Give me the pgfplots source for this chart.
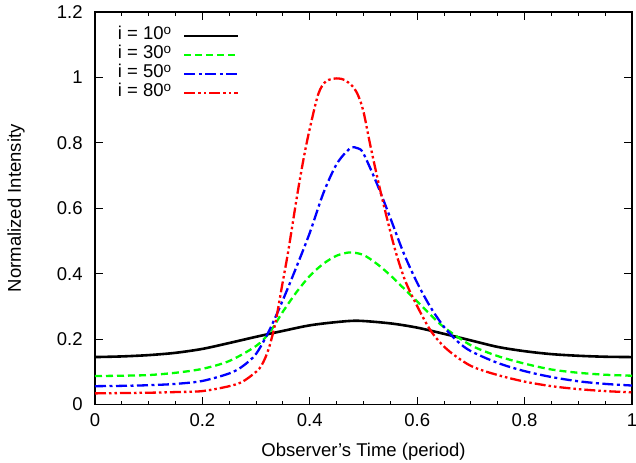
\documentclass[border=0pt]{standalone}
\usepackage{fontspec}
\setmainfont{Liberation Sans}
\usepackage{pgfplots}
\pgfplotsset{compat=1.18}
\definecolor{gpgreen}{RGB}{0,255,0}
\definecolor{gpblue}{RGB}{0,0,255}
\definecolor{gpred}{RGB}{255,0,0}
\newcommand{\dego}{\raisebox{5bp}{\fontsize{13.5bp}{14bp}\selectfont o}}
\begin{document}
\fontsize{18.5bp}{22bp}\selectfont
\begin{tikzpicture}
\useasboundingbox (-95bp,-58.5bp) rectangle (541bp,404.5bp);
\begin{axis}[
  scale only axis, width=537bp, height=392.5bp,
  xmin=0, xmax=1, ymin=0, ymax=1.2,
  xtick={0,0.2,0.4,0.6,0.8,1}, ytick={0,0.2,0.4,0.6,0.8,1,1.2},
  minor x tick num=3,
  tick align=inside,
  major tick length=8bp, minor tick length=4bp,
  axis line style={line width=1.4bp},
  every tick/.style={black, line width=1bp},
  /pgf/number format/assume math mode=true,
  xticklabel style={yshift=-3bp},
  yticklabel style={xshift=-6bp},
  xlabel={Observer's Time (period)},
  ylabel={Normalized Intensity},
  xlabel style={at={(axis description cs:0.5,-0.121)}, anchor=center},
  ylabel style={at={(axis description cs:-0.147,0.5)}, anchor=center},
  legend cell align=right, legend plot pos=right,
  legend style={at={(0.27,0.964)}, anchor=north east, draw=none, fill=none,
    inner sep=0pt, row sep=0pt, /tikz/column sep=12bp,
    nodes={inner sep=0pt, text height=13.5bp, text depth=5.5bp}},
  legend image code/.code={\draw[#1] (0bp,0bp) -- (54bp,0bp);},
]
\addplot[black, line width=2.6bp, smooth, tension=0.5] coordinates {
(0,0.145) (0.05,0.147) (0.1,0.151) (0.15,0.158) (0.2,0.170) (0.25,0.188)
(0.3,0.207) (0.35,0.225) (0.4,0.242) (0.45,0.252) (0.49,0.256) (0.55,0.248)
(0.6,0.235) (0.65,0.216) (0.7,0.196) (0.75,0.176) (0.8,0.163) (0.85,0.154)
(0.9,0.149) (0.95,0.146) (1,0.145)};
\addlegendentry{i = 10\dego}
\addplot[gpgreen, line width=2.3bp, dash pattern=on 7bp off 4bp, smooth, tension=0.5] coordinates {
(0,0.087) (0.05,0.088) (0.1,0.090) (0.15,0.097) (0.2,0.109) (0.25,0.133)
(0.3,0.179) (0.325,0.220) (0.35,0.284) (0.375,0.343) (0.4,0.393) (0.425,0.430)
(0.45,0.455) (0.475,0.465) (0.5,0.457) (0.525,0.430) (0.55,0.395) (0.575,0.355)
(0.6,0.315) (0.625,0.274) (0.65,0.236) (0.7,0.181) (0.75,0.148) (0.8,0.125)
(0.85,0.107) (0.9,0.097) (0.95,0.091) (1,0.088)};
\addlegendentry{i = 30\dego}
\addplot[gpblue, line width=2.3bp, dash pattern=on 11bp off 3.5bp on 3bp off 3.5bp, smooth, tension=0.5] coordinates {
(0,0.056) (0.05,0.057) (0.1,0.059) (0.15,0.063) (0.2,0.072) (0.25,0.095)
(0.275,0.117) (0.3,0.155) (0.325,0.228) (0.35,0.320) (0.375,0.420) (0.4,0.525)
(0.425,0.645) (0.45,0.735) (0.475,0.783) (0.49,0.783) (0.5,0.767) (0.525,0.675)
(0.55,0.570) (0.575,0.462) (0.6,0.372) (0.625,0.297) (0.65,0.237) (0.675,0.193)
(0.7,0.163) (0.75,0.127) (0.8,0.102) (0.85,0.084) (0.9,0.071) (0.95,0.063) (1,0.058)};
\addlegendentry{i = 50\dego}
\addplot[gpred, line width=2.3bp, dash pattern=on 11bp off 3bp on 2.5bp off 3bp on 2.5bp off 3bp, smooth, tension=0.5] coordinates {
(0,0.034) (0.1,0.036) (0.15,0.038) (0.2,0.041) (0.25,0.056) (0.275,0.070)
(0.3,0.100) (0.311,0.122) (0.323,0.168) (0.336,0.250) (0.348,0.360) (0.36,0.470)
(0.377,0.645) (0.39,0.765) (0.401,0.851) (0.416,0.950) (0.43,0.988) (0.45,0.997)
(0.465,0.992) (0.48,0.972) (0.49,0.945) (0.5,0.895) (0.513,0.790) (0.532,0.649)
(0.556,0.490) (0.575,0.390) (0.594,0.320) (0.625,0.226) (0.656,0.168) (0.7,0.118)
(0.75,0.090) (0.8,0.070) (0.85,0.056) (0.9,0.047) (0.95,0.041) (1,0.037)};
\addlegendentry{i = 80\dego}
\end{axis}
\end{tikzpicture}
\end{document}
